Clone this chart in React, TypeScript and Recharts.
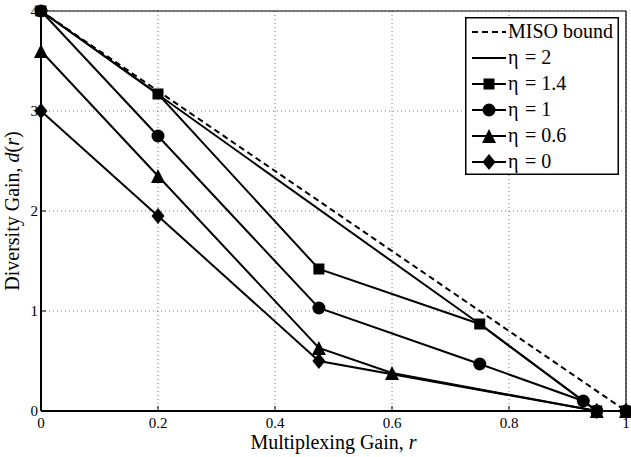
import { LineChart, Line, XAxis, YAxis, CartesianGrid, Legend } from "recharts";

const FONT = "'Liberation Serif', 'DejaVu Serif', serif";

// axis ticks
const R_TICKS = [0, 0.2, 0.4, 0.6, 0.8, 1];
const D_TICKS = [0, 1, 2, 3, 4];

// MISO bound (dashed)
const MISO_R = [0, 1];
const MISO_D = [4, 0];
// eta = 2, no markers
const ETA2_R = [0, 0.75, 0.95, 1];
const ETA2_D = [4, 0.87, 0, 0];
// eta = 1.4, squares
const ETA14_R = [0, 0.2, 0.475, 0.75, 0.95, 1];
const ETA14_D = [4, 3.17, 1.42, 0.87, 0, 0];
// eta = 1, circles
const ETA1_R = [0, 0.2, 0.475, 0.75, 0.927, 0.95, 1];
const ETA1_D = [4, 2.75, 1.03, 0.47, 0.1, 0, 0];
// eta = 0.6, triangles
const ETA06_R = [0, 0.2, 0.475, 0.6, 0.95, 1];
const ETA06_D = [3.6, 2.35, 0.63, 0.38, 0, 0];
// eta = 0, diamonds
const ETA0_R = [0, 0.2, 0.475, 0.95, 1];
const ETA0_D = [3, 1.95, 0.5, 0, 0];

type Marker = "none" | "square" | "circle" | "triangle" | "diamond";

const zip = (r: number[], d: number[]) => r.map((x, i) => ({ r: x, d: d[i] }));

const SERIES: { key: string; label: string; data: { r: number; d: number }[]; marker: Marker; dashed?: boolean }[] = [
  { key: "miso", label: "MISO bound", data: zip(MISO_R, MISO_D), marker: "none", dashed: true },
  { key: "eta2", label: "2", data: zip(ETA2_R, ETA2_D), marker: "none" },
  { key: "eta14", label: "1.4", data: zip(ETA14_R, ETA14_D), marker: "square" },
  { key: "eta1", label: "1", data: zip(ETA1_R, ETA1_D), marker: "circle" },
  { key: "eta06", label: "0.6", data: zip(ETA06_R, ETA06_D), marker: "triangle" },
  { key: "eta0", label: "0", data: zip(ETA0_R, ETA0_D), marker: "diamond" },
];

function markerShape(kind: Marker, cx: number, cy: number, key?: string) {
  if (kind === "square") return <rect key={key} x={cx - 5.5} y={cy - 5.5} width={11} height={11} fill="#000" />;
  if (kind === "circle") return <circle key={key} cx={cx} cy={cy} r={6.5} fill="#000" />;
  if (kind === "triangle")
    return <polygon key={key} points={`${cx},${cy - 7} ${cx - 7},${cy + 7} ${cx + 7},${cy + 7}`} fill="#000" />;
  if (kind === "diamond")
    return <polygon key={key} points={`${cx},${cy - 8} ${cx + 6.5},${cy} ${cx},${cy + 8} ${cx - 6.5},${cy}`} fill="#000" />;
  return <g key={key} />;
}

function LegendBox() {
  return (
    <svg width={154} height={158} style={{ display: "block", fontFamily: FONT }}>
      <rect x={0.75} y={0.75} width={152.5} height={156.5} fill="#fff" stroke="#000" strokeWidth={1.5} />
      {SERIES.map((s, i) => {
        const y = 15 + i * 26;
        return (
          <g key={s.key}>
            <line x1={7} x2={41} y1={y} y2={y} stroke="#000" strokeWidth={2} strokeDasharray={s.dashed ? "6 4" : undefined} />
            {markerShape(s.marker, 24, y)}
            {s.dashed ? (
              <text x={43} y={y + 6} fontSize={20} style={{ fontFamily: FONT }}>
                {s.label}
              </text>
            ) : (
              <text x={43} y={y + 6} fontSize={20} style={{ fontFamily: FONT }}>
                <tspan>η</tspan>
                <tspan x={60}>= {s.label}</tspan>
              </text>
            )}
          </g>
        );
      })}
    </svg>
  );
}

function XTick({ x, y, payload }: any) {
  return (
    <text x={x} y={y} dy="0.72em" textAnchor="middle" fontSize={15} style={{ fontFamily: FONT }} fill="#000">
      {String(payload.value)}
    </text>
  );
}

function YTick({ x, y, payload }: any) {
  return (
    <text x={x} y={y} dy="0.36em" textAnchor="end" fontSize={15} style={{ fontFamily: FONT }} fill="#000">
      {String(payload.value)}
    </text>
  );
}

function XLabel({ viewBox }: any) {
  const { x, y, width } = viewBox;
  return (
    <text x={x + width / 2} y={y + 38} textAnchor="middle" fontSize={20} style={{ fontFamily: FONT }} fill="#000">
      Multiplexing Gain, <tspan fontStyle="italic">r</tspan>
    </text>
  );
}

function YLabel({ viewBox }: any) {
  const { y, height } = viewBox;
  const cx = 19;
  const cy = y + height / 2;
  return (
    <text x={cx} y={cy} transform={`rotate(-90, ${cx}, ${cy})`} textAnchor="middle" fontSize={20} style={{ fontFamily: FONT }} fill="#000">
      Diversity Gain, <tspan fontStyle="italic">d</tspan>(<tspan fontStyle="italic">r</tspan>)
    </text>
  );
}

export default function App() {
  return (
    <div style={{ position: "absolute", left: 0, top: 0, background: "#fff", fontFamily: FONT }}>
      <LineChart width={631} height={457} margin={{ top: 10, right: 4, bottom: 6, left: 0 }}>
        <CartesianGrid stroke="#777" strokeDasharray="1 3" strokeWidth={1} />
        <XAxis
          dataKey="r"
          type="number"
          domain={[0, 1]}
          ticks={R_TICKS}
          allowDuplicatedCategory={false}
          height={40}
          tickSize={-5}
          tickMargin={11}
          tick={<XTick />}
          axisLine={{ stroke: "#000", strokeWidth: 2 }}
          tickLine={{ stroke: "#000" }}
          label={<XLabel />}
        />
        <XAxis
          xAxisId="top"
          orientation="top"
          type="number"
          domain={[0, 1]}
          ticks={R_TICKS}
          height={1}
          tick={false}
          tickSize={-5}
          axisLine={{ stroke: "#000", strokeWidth: 1.2 }}
          tickLine={{ stroke: "#000" }}
        />
        <YAxis
          type="number"
          domain={[0, 4]}
          ticks={D_TICKS}
          width={41}
          tickSize={-5}
          tickMargin={8}
          tick={<YTick />}
          axisLine={{ stroke: "#000", strokeWidth: 2 }}
          tickLine={{ stroke: "#000" }}
          label={<YLabel />}
        />
        <YAxis
          yAxisId="right"
          orientation="right"
          type="number"
          domain={[0, 4]}
          ticks={D_TICKS}
          width={1}
          tick={false}
          tickSize={-5}
          axisLine={{ stroke: "#000", strokeWidth: 1.2 }}
          tickLine={{ stroke: "#000" }}
        />
        <Legend verticalAlign="middle" wrapperStyle={{ left: 465, top: 17, width: 154, height: 158 }} content={() => <LegendBox />} />
        {SERIES.map((s) => (
          <Line
            key={s.key}
            data={s.data}
            dataKey="d"
            type="linear"
            stroke="#000"
            strokeWidth={2}
            strokeDasharray={s.dashed ? "6 4" : undefined}
            dot={s.marker === "none" ? false : (p: any) => markerShape(s.marker, p.cx, p.cy, `${s.key}-${p.index}`)}
            activeDot={false}
            isAnimationActive={false}
          />
        ))}
      </LineChart>
    </div>
  );
}
